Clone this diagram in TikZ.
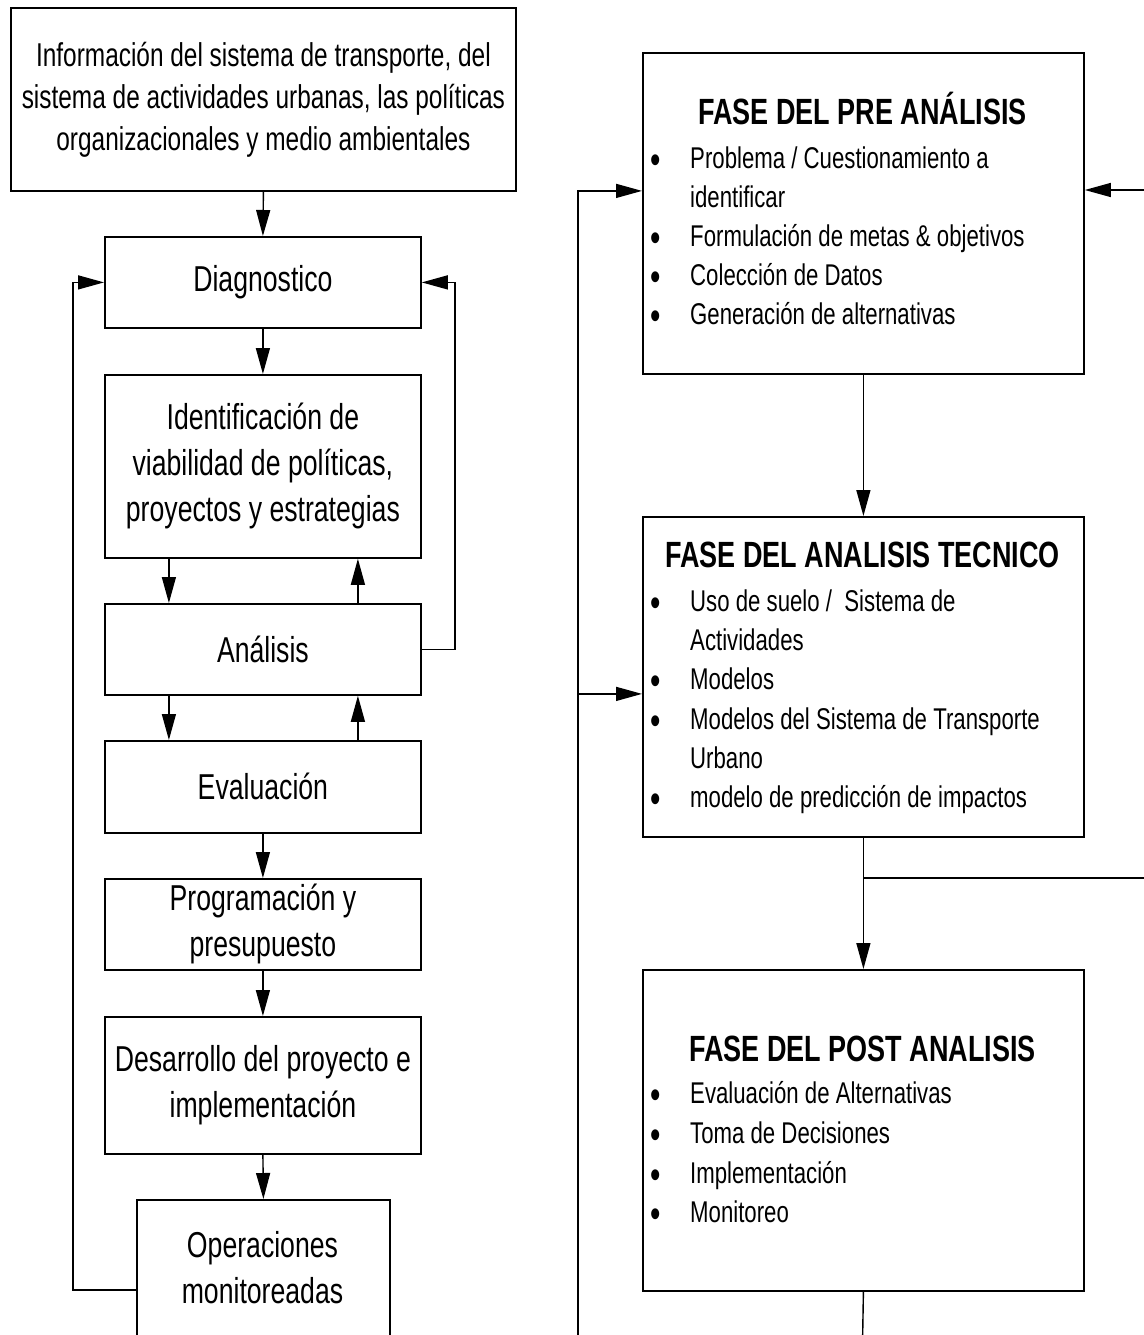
\documentclass[tikz,border=0pt]{standalone}
\usepackage{fontspec}
\setmainfont{Liberation Sans}[FakeStretch=0.74]
\usetikzlibrary{arrows.meta}

\begin{document}
\begin{tikzpicture}[x=1pt,y=-1pt,
  box/.style={draw, line width=1.8pt, inner sep=0pt, anchor=north west, align=center},
  conn/.style={line width=1.4pt},
  arr/.style={conn, -{Triangle[length=26pt,width=14pt]}},
  big/.style={font=\fontsize{36}{46}\selectfont},
  title/.style={font=\fontsize{36.5}{44}\selectfont\bfseries, text height=0.75em, text depth=0.25em, inner sep=0pt},
  item/.style={font=\fontsize{30}{39}\selectfont, anchor=west, text height=0.75em, text depth=0.25em, inner sep=0pt},
  dot/.style={font=\fontsize{40}{39}\selectfont, text height=0.75em, text depth=0.25em, inner sep=0pt, yshift=-5pt}]
\useasboundingbox (0,0) rectangle (1143,1335);

% ---- left column: process steps ----
\node[box, minimum width=505pt, minimum height=183pt, font=\fontsize{33}{42}\selectfont] (info) at (10,7)
  {Información del sistema de transporte, del\\sistema de actividades urbanas, las políticas\\organizacionales y medio ambientales};
\node[box, big, minimum width=316pt, minimum height=91pt] (diag) at (104,236) {Diagnostico};
\node[box, big, minimum width=316pt, minimum height=183pt] (ident) at (104,374)
  {Identificación de\\viabilidad de políticas,\\proyectos y estrategias};
\node[box, big, minimum width=316pt, minimum height=91pt] (ana) at (104,603) {Análisis};
\node[box, big, minimum width=316pt, minimum height=92pt] (eval) at (104,740) {Evaluación};
\node[box, big, minimum width=316pt, minimum height=91pt] (prog) at (104,878) {Programación y\\presupuesto};
\node[box, big, minimum width=316pt, minimum height=137pt] (desa) at (104,1016) {Desarrollo del proyecto e\\implementación};
\node[box, minimum width=253pt, minimum height=160pt] (ope) at (136,1199) {};
\node[big, align=center] (opetext) at (262.5,1268) {Operaciones\\monitoreadas};

\draw[arr] (info.south) -- (diag.north);
\draw[arr] (diag.south) -- (ident.north);
\draw[arr] ([xshift=-94pt]ident.south) -- ([xshift=-94pt]ana.north);
\draw[arr] ([xshift=95pt]ana.north) -- ([xshift=95pt]ident.south);
\draw[arr] ([xshift=-94pt]ana.south) -- ([xshift=-94pt]eval.north);
\draw[arr] ([xshift=95pt]eval.north) -- ([xshift=95pt]ana.south);
\draw[arr] (eval.south) -- (prog.north);
\draw[arr] (prog.south) -- (desa.north);
\draw[arr] (desa.south) -- (ope.north);

% feedback loops into the diagnosis
\draw[arr] (ana.east) -- ++(33,0) |- (diag.east);
\coordinate (opeL) at (136,1290);
\draw[arr] (opeL) -- ++(-63,0) |- (diag.west);

% ---- right column: phases ----
\node[box, minimum width=441pt, minimum height=321pt] (pre) at (642,52) {};
\node[box, minimum width=441pt, minimum height=320pt] (tec) at (642,516) {};
\node[box, minimum width=441pt, minimum height=321pt] (post) at (642,969) {};

\node[title] (pre-t) at (862.5,122) {FASE DEL PRE ANÁLISIS};
\node[dot] (pre-b1) at (656,166) {•};
\node[item] (pre-1) at (690,166) {Problema / Cuestionamiento a};
\node[item] (pre-1b) at (690,205) {identificar};
\node[dot] (pre-b2) at (656,244) {•};
\node[item] (pre-2) at (690,244) {Formulación de metas \& objetivos};
\node[dot] (pre-b3) at (656,283) {•};
\node[item] (pre-3) at (690,283) {Colección de Datos};
\node[dot] (pre-b4) at (656,322) {•};
\node[item] (pre-4) at (690,322) {Generación de alternativas};

\node[title] (tec-t) at (862.5,565) {FASE DEL ANALISIS TECNICO};
\node[dot] (tec-b1) at (656,609) {•};
\node[item] (tec-1) at (690,609) {Uso de suelo /\ \ Sistema de};
\node[item] (tec-1b) at (690,648) {Actividades};
\node[dot] (tec-b2) at (656,687) {•};
\node[item] (tec-2) at (690,687) {Modelos};
\node[dot] (tec-b3) at (656,727) {•};
\node[item] (tec-3) at (690,727) {Modelos del Sistema de Transporte};
\node[item] (tec-3b) at (690,766) {Urbano};
\node[dot] (tec-b4) at (656,805) {•};
\node[item] (tec-4) at (690,805) {modelo de predicción de impactos};

\node[title] (post-t) at (862.5,1059) {FASE DEL POST ANALISIS};
\node[dot] (post-b1) at (656,1101) {•};
\node[item] (post-1) at (690,1101) {Evaluación de Alternativas};
\node[dot] (post-b2) at (656,1141) {•};
\node[item] (post-2) at (690,1141) {Toma de Decisiones};
\node[dot] (post-b3) at (656,1181) {•};
\node[item] (post-3) at (690,1181) {Implementación};
\node[dot] (post-b4) at (656,1220) {•};
\node[item] (post-4) at (690,1220) {Monitoreo};

% connectors between phases
\draw[arr] (pre.south) -- (tec.north);
\draw[arr] (tec.south) -- (post.north);
\coordinate (rout) at (1150,878);
\draw[conn] (rout -| tec.south) -- (rout);
\coordinate (postout) at (862.5,1345);
\draw[conn] (post.south) -- (postout);

% return bus on the left of the phases
\coordinate (busbot) at (578,1345);
\coordinate (prein) at ([yshift=22.5pt]pre.west);
\coordinate (tecin) at ([yshift=-17pt]tec.west);
\draw[arr] (busbot) |- (prein);
\draw[arr] (busbot |- tecin) -- (tecin);

% return entry on the right
\coordinate (rin) at (1150,190);
\draw[arr] (rin) -- (rin -| pre.east);
\end{tikzpicture}
\end{document}
